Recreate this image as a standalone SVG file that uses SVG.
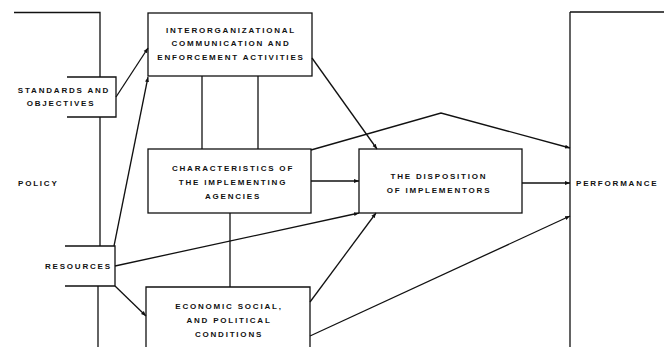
<svg xmlns="http://www.w3.org/2000/svg" width="664" height="347" viewBox="0 0 664 347">
<style>
.ln{fill:none;stroke:#111;stroke-width:1.3}
.bx{fill:#fff;stroke:#111;stroke-width:1.3}
text{font-family:"Liberation Sans",Arial,sans-serif;font-size:8px;font-weight:bold;letter-spacing:1.8px;fill:#111}
.c{text-anchor:middle}
</style>
<defs>
<marker id="ah" markerWidth="6" markerHeight="6" refX="5" refY="3" orient="auto" markerUnits="userSpaceOnUse">
<path d="M0,1 L5,3 L0,5 z" fill="#111"/>
</marker>
</defs>
<rect width="664" height="347" fill="#fff"/>
<g id="policy">
<path class="ln" d="M14,12.5 H100 V77 M100,117 V246 M98,286 V347"/>
<text x="18" y="186">POLICY</text>
</g>
<g id="standards">
<path class="ln" d="M67,77 H116 V117 H67"/>
<text x="64" y="93" class="c">STANDARDS AND</text>
<text x="61" y="106" class="c">OBJECTIVES</text>
</g>
<g id="resources">
<path class="ln" d="M65,246 H115 V286 H65"/>
<text x="45" y="269">RESOURCES</text>
</g>
<g id="interorg">
<rect class="bx" x="148" y="13" width="164" height="63"/>
<text x="231" y="33" class="c">INTERORGANIZATIONAL</text>
<text x="231" y="46" class="c">COMMUNICATION AND</text>
<text x="231" y="60" class="c">ENFORCEMENT ACTIVITIES</text>
</g>
<g id="characteristics">
<rect class="bx" x="148" y="149" width="163" height="64"/>
<text x="233" y="171" class="c">CHARACTERISTICS OF</text>
<text x="233" y="185" class="c">THE IMPLEMENTING</text>
<text x="233" y="199" class="c">AGENCIES</text>
</g>
<g id="disposition">
<rect class="bx" x="359" y="149" width="163" height="64"/>
<text x="439" y="179" class="c">THE DISPOSITION</text>
<text x="439" y="193" class="c">OF IMPLEMENTORS</text>
</g>
<g id="economic">
<path class="ln" d="M146,347 V287 H310 V347"/>
<text x="229" y="309" class="c">ECONOMIC SOCIAL,</text>
<text x="229" y="323" class="c">AND POLITICAL</text>
<text x="229" y="337" class="c">CONDITIONS</text>
</g>
<g id="performance">
<path class="ln" d="M570,12 H664 M570,12 V347"/>
<text x="576" y="186">PERFORMANCE</text>
</g>
<g id="connectors">
<line class="ln" x1="116" y1="97" x2="148" y2="48" marker-end="url(#ah)"/>
<line class="ln" x1="114" y1="246" x2="148" y2="77" marker-end="url(#ah)"/>
<line class="ln" x1="202" y1="76" x2="202" y2="149"/>
<line class="ln" x1="258" y1="76" x2="258" y2="149"/>
<line class="ln" x1="230" y1="213" x2="230" y2="287"/>
<line class="ln" x1="312" y1="58" x2="377" y2="149" marker-end="url(#ah)"/>
<polyline class="ln" points="311,150 441,113 570,148" marker-end="url(#ah)"/>
<line class="ln" x1="311" y1="181" x2="359" y2="181" marker-end="url(#ah)"/>
<line class="ln" x1="522" y1="183" x2="570" y2="183" marker-end="url(#ah)"/>
<line class="ln" x1="115" y1="266" x2="359" y2="213" marker-end="url(#ah)"/>
<line class="ln" x1="115" y1="286" x2="146" y2="316" marker-end="url(#ah)"/>
<line class="ln" x1="310" y1="302" x2="376" y2="213" marker-end="url(#ah)"/>
<line class="ln" x1="310" y1="336" x2="570" y2="216" marker-end="url(#ah)"/>
</g>
</svg>
